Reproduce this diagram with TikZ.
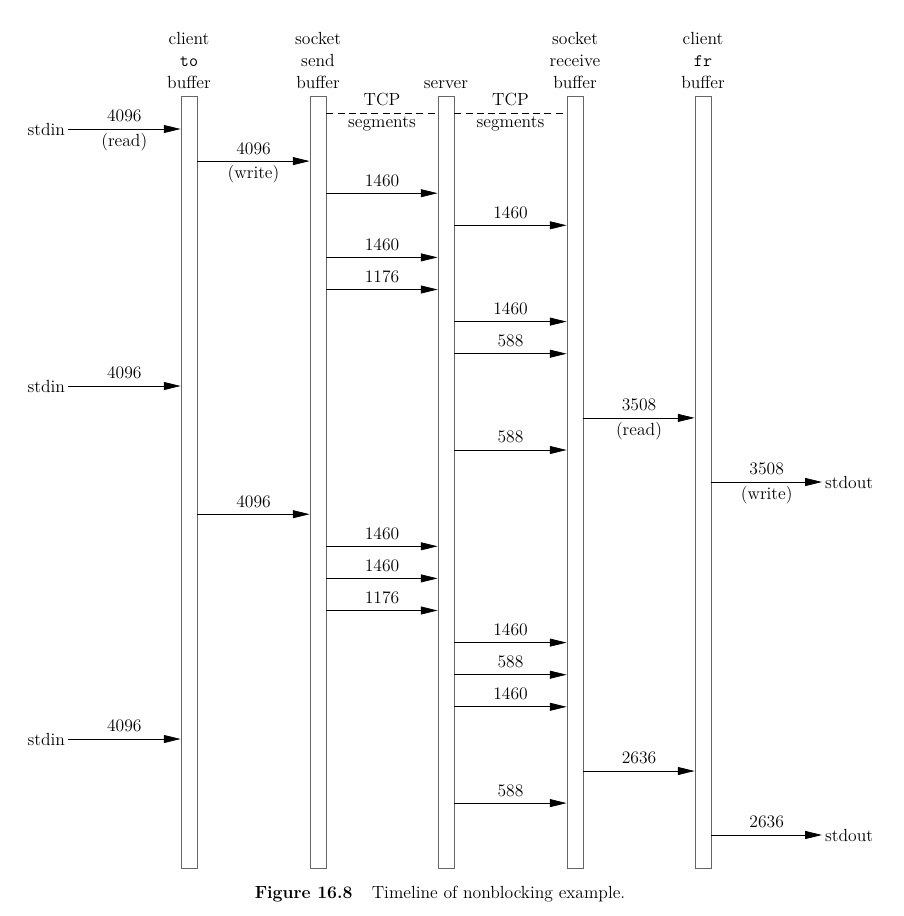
\documentclass[tikz,border=0pt]{standalone}
\usetikzlibrary{arrows.meta}
\usetikzlibrary{positioning}
\begin{document}
\begin{tikzpicture}[
    x=0.025cm, y=-0.025cm,
    font=\fontsize{12.5}{15.6}\selectfont,
    bufferBar/.style={
        rectangle, draw=black!60, line width=0.6pt,
        minimum width=0.4cm,
        minimum height=19.275cm,
        inner sep=0pt
    },
    barHead/.style={align=center, inner sep=0pt},
    segArrow/.style={-{Triangle[length=0.42cm,width=0.2cm]}, line width=0.5pt},
    numLabel/.style={above, inner sep=4.5pt},
    opLabel/.style={below, inner sep=2.6pt}
]
\useasboundingbox (0,0) rectangle (903,916);

% time rows
\foreach \k in {0,...,22}
    \coordinate (row\k) at (0,{129+32.1*\k});
\coordinate (dashRow) at (0,113);

% buffers and server
\node[bufferBar] (cli) at (189,482.5) {};
\node[bufferBar] (snd) at (318,482.5) {};
\node[bufferBar] (srv) at (446,482.5) {};
\node[bufferBar] (rcv) at (575,482.5) {};
\node[bufferBar] (cfr) at (703,482.5) {};

\node[barHead, above=0.18cm of cli] (cliHead) {client\\\texttt{to}\\buffer};
\node[barHead, above=0.18cm of snd] (sndHead) {socket\\send\\buffer};
\node[barHead, above=0.18cm of srv] (srvHead) {server};
\node[barHead, above=0.18cm of rcv] (rcvHead) {socket\\receive\\buffer};
\node[barHead, above=0.18cm of cfr] (cfrHead) {client\\\texttt{fr}\\buffer};

% TCP segments
\draw[dashed, dash pattern=on 5pt off 3pt, line width=0.5pt] (snd.east |- dashRow) -- (srv.west |- dashRow)
    node[midway, numLabel] {TCP} node[midway, opLabel] {segments};
\draw[dashed, dash pattern=on 5pt off 3pt, line width=0.5pt] (srv.east |- dashRow) -- (rcv.west |- dashRow)
    node[midway, numLabel] {TCP} node[midway, opLabel] {segments};

% stdin / stdout
\node[anchor=east, inner sep=2pt] (stdinA) at (68,129) {stdin};
\node[anchor=east, inner sep=2pt] (stdinB) at (68,386) {stdin};
\node[anchor=east, inner sep=2pt] (stdinC) at (68,739) {stdin};
\node[anchor=west, inner sep=2pt] (stdoutA) at (822,482) {stdout};
\node[anchor=west, inner sep=2pt] (stdoutB) at (822,835) {stdout};

\draw[segArrow] (stdinA) -- (cli.west |- stdinA)
    node[midway, numLabel] {4096} node[midway, opLabel] {(read)};
\draw[segArrow] (stdinB) -- (cli.west |- stdinB) node[midway, numLabel] {4096};
\draw[segArrow] (stdinC) -- (cli.west |- stdinC) node[midway, numLabel] {4096};
\draw[segArrow] (cfr.east |- stdoutA) -- (stdoutA)
    node[midway, numLabel] {3508} node[midway, opLabel] {(write)};
\draw[segArrow] (cfr.east |- stdoutB) -- (stdoutB) node[midway, numLabel] {2636};

\draw[segArrow] (cli.east |- row1) -- (snd.west |- row1)
    node[midway, numLabel] {4096} node[midway, opLabel] {(write)};
\draw[segArrow] (rcv.east |- row9) -- (cfr.west |- row9)
    node[midway, numLabel] {3508} node[midway, opLabel] {(read)};

\foreach \src/\dst/\row/\num in {
    snd/srv/2/1460, srv/rcv/3/1460, snd/srv/4/1460, snd/srv/5/1176,
    srv/rcv/6/1460, srv/rcv/7/588, srv/rcv/10/588, cli/snd/12/4096,
    snd/srv/13/1460, snd/srv/14/1460, snd/srv/15/1176, srv/rcv/16/1460,
    srv/rcv/17/588, srv/rcv/18/1460, rcv/cfr/20/2636, srv/rcv/21/588}
    \draw[segArrow] (\src.east |- row\row) -- (\dst.west |- row\row)
        node[midway, numLabel] {\num};

% caption
\node (caption) at (440,894) {\textbf{Figure 16.8}\hspace{1.1em}Timeline of nonblocking example.};
\end{tikzpicture}
\end{document}
